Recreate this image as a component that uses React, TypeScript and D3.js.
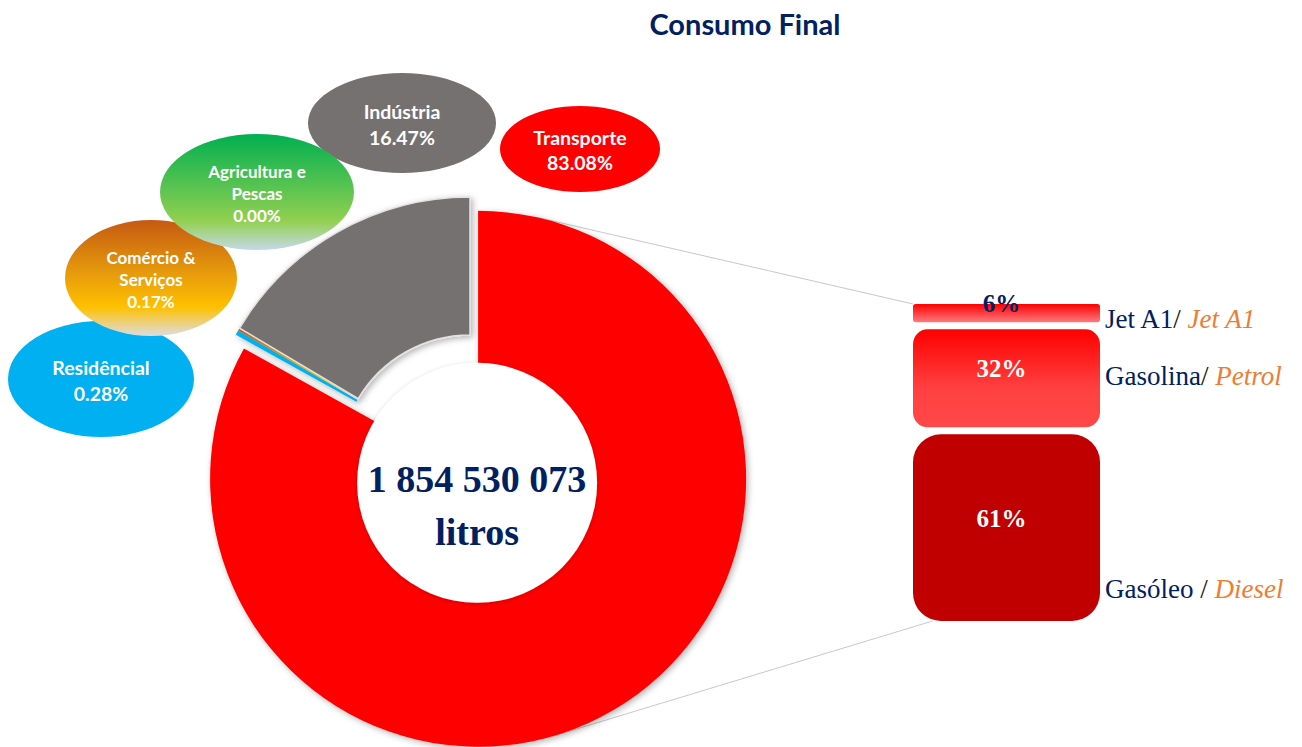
import React from 'react';
import * as d3 from 'd3';

// sectors of final consumption, clockwise from 12 o'clock
const sectors = ['Transporte', 'Residêncial', 'Comércio & Serviços', 'Agricultura e Pescas', 'Indústria'];
const sectorShares = [83.08, 0.28, 0.17, 0.0, 16.47];
const sectorLines = [['Transporte'], ['Residêncial'], ['Comércio &', 'Serviços'], ['Agricultura e', 'Pescas'], ['Indústria']];
const sectorFills = ['#FF0000', '#00B0F0', 'url(#gradComercio)', 'url(#gradAgri)', '#767171'];

// breakdown of transport
const fuels = ['Jet A1', 'Gasolina', 'Gasóleo'];
const fuelsEn = ['Jet A1', 'Petrol', 'Diesel'];
const fuelShares = [6, 32, 61];
const fuelFills = ['url(#gradJet)', 'url(#gradGas)', '#C00000'];

const totalLabel = ['1 854 530 073', 'litros'];

// callout bubbles (layout only)
const callouts = {
  'Transporte': { cx: 580, cy: 149, rx: 80, ry: 43, fs: 19.5, lh: 25 },
  'Residêncial': { cx: 101, cy: 379, rx: 93, ry: 58, fs: 19.5, lh: 26 },
  'Comércio & Serviços': { cx: 151, cy: 278, rx: 86, ry: 58, fs: 17, lh: 22 },
  'Agricultura e Pescas': { cx: 257, cy: 192, rx: 97, ry: 58, fs: 17, lh: 22 },
  'Indústria': { cx: 402, cy: 123, rx: 94, ry: 50, fs: 19.5, lh: 26 },
};
const calloutOrder = ['Indústria', 'Residêncial', 'Comércio & Serviços', 'Agricultura e Pescas', 'Transporte'];

const W = 1302;
const H = 747;
const NAVY = '#002060';
const SANS = 'Lato, "Open Sans", sans-serif';
const SERIF = '"Liberation Serif", "DejaVu Serif", serif';

export default function App() {
  const cx = 470, cy = 465;
  const outerR = 268, innerR = 130, holeR = 120, explode = 16;

  const pie = d3.pie<number>().sort(null).value(d => d);
  const arcs = pie(sectorShares);
  const arc = d3.arc<d3.PieArcDatum<number>>().outerRadius(outerR).innerRadius(innerR);
  const redArc = d3.arc<d3.PieArcDatum<number>>().outerRadius(outerR).innerRadius(0);

  const red = arcs[0];
  const mid = (red.startAngle + red.endAngle) / 2;
  const rcx = cx + explode * Math.sin(mid);
  const rcy = cy - explode * Math.cos(mid);

  // bar stack
  const barX = 913, barW = 187, barTop = 304, barBottom = 621, gap = 7;
  const y = d3.scaleLinear()
    .domain([0, d3.sum(fuelShares)])
    .range([barTop, barBottom - gap * (fuelShares.length - 1)]);
  let acc = 0;
  const bars = fuelShares.map((v, i) => {
    const y0 = y(acc) + i * gap;
    acc += v;
    const y1 = y(acc) + i * gap;
    return { name: fuels[i], en: fuelsEn[i], v, y0, y1, h: y1 - y0, fill: fuelFills[i] };
  });

  const ptOnRed = (deg: number) => {
    const a = (deg * Math.PI) / 180;
    return [rcx + outerR * Math.sin(a), rcy - outerR * Math.cos(a)];
  };
  const topStart = ptOnRed(13);
  const botStart = ptOnRed(164);
  const last = bars[bars.length - 1];
  const lastR = Math.min(28, last.h * 0.15);

  return (
    <svg width={W} height={H} style={{ position: 'absolute', left: 0, top: 0, background: '#fff' }}>
      <defs>
        <filter id="shadow" x="-20%" y="-20%" width="140%" height="140%">
          <feDropShadow dx="2" dy="2" stdDeviation="3" floodColor="#000" floodOpacity="0.3" />
        </filter>
        <filter id="soft" x="-20%" y="-20%" width="140%" height="140%">
          <feDropShadow dx="0" dy="1" stdDeviation="2" floodColor="#000" floodOpacity="0.2" />
        </filter>
        <linearGradient id="gradComercio" x1="0" y1="0" x2="0" y2="1">
          <stop offset="0" stopColor="#C55A11" />
          <stop offset="0.45" stopColor="#E69A0C" />
          <stop offset="0.75" stopColor="#FFC000" />
          <stop offset="1" stopColor="#DCDDE2" />
        </linearGradient>
        <linearGradient id="gradAgri" x1="0" y1="0" x2="0" y2="1">
          <stop offset="0" stopColor="#00B050" />
          <stop offset="0.75" stopColor="#92D050" />
          <stop offset="1" stopColor="#C5D9E8" />
        </linearGradient>
        <linearGradient id="gradJet" x1="0" y1="0" x2="0" y2="1">
          <stop offset="0" stopColor="#FF0000" />
          <stop offset="1" stopColor="#FF7C80" />
        </linearGradient>
        <linearGradient id="gradGas" x1="0" y1="0" x2="0" y2="1">
          <stop offset="0" stopColor="#FF0000" />
          <stop offset="0.6" stopColor="#FF4040" />
          <stop offset="1" stopColor="#FF4848" />
        </linearGradient>
      </defs>

      <text x={745} y={35} textAnchor="middle" fontFamily={SANS} fontWeight="bold" fontSize={29} fill={NAVY}>
        Consumo Final
      </text>

      {/* connector lines */}
      <line x1={topStart[0]} y1={topStart[1]} x2={barX} y2={bars[0].y0} stroke="#C8C8C8" strokeWidth={1} />
      <line x1={botStart[0]} y1={botStart[1]} x2={barX + lastR * 0.7} y2={last.y1} stroke="#C8C8C8" strokeWidth={1} />

      {/* doughnut */}
      <g filter="url(#shadow)">
        {arcs.slice(1).map((a, i) => (
          <path key={sectors[i + 1]} d={arc(a) || ''} transform={`translate(${cx},${cy})`}
            fill={sectorFills[i + 1]} stroke={i === 3 ? '#E2E2E2' : 'none'} strokeWidth={i === 3 ? 1.5 : 0} />
        ))}
        <path d={redArc(red) || ''} transform={`translate(${rcx},${rcy})`} fill={sectorFills[0]} />
      </g>
      <circle cx={rcx - 1} cy={rcy + 4} r={holeR} fill="#fff" filter="url(#soft)" />
      <g fontFamily={SERIF} fontWeight="bold" fontSize={38} fill={NAVY} textAnchor="middle">
        <text x={rcx - 1} y={rcy + 13}>{totalLabel[0]}</text>
        <text x={rcx - 1} y={rcy + 66}>{totalLabel[1]}</text>
      </g>

      {/* callouts */}
      {calloutOrder.map(name => {
        const i = sectors.indexOf(name);
        const c = callouts[name];
        const lines = [...sectorLines[i], `${sectorShares[i].toFixed(2)}%`];
        const n = lines.length;
        return (
          <g key={name}>
            <ellipse cx={c.cx} cy={c.cy} rx={c.rx} ry={c.ry} fill={sectorFills[i]} />
            {lines.map((t, k) => (
              <text key={k} x={c.cx} y={c.cy + 1 + (k - (n - 1) / 2) * c.lh} textAnchor="middle"
                dominantBaseline="central" fontFamily={SANS} fontWeight="bold" fontSize={c.fs} fill="#fff">
                {t}
              </text>
            ))}
          </g>
        );
      })}

      {/* transport breakdown */}
      {bars.map((b, i) => {
        const r = Math.min(28, b.h * 0.15);
        const labelY = i === 0 ? b.y1 + 6 : i === 1 ? b.y0 + 56 : b.y1 - 23;
        const pctY = i === 0 ? b.y1 - 10 : i === 1 ? b.y0 + 48 : b.y1 - 94;
        return (
          <g key={b.name}>
            <rect x={barX} y={b.y0} width={barW} height={b.h} rx={r} ry={r} fill={b.fill} />
            <text x={barX + barW / 2 - 5} y={pctY} textAnchor="middle" fontFamily={SERIF} fontWeight="bold"
              fontSize={25} fill={i === 0 ? NAVY : '#fff'}>
              {`${b.v}%`}
            </text>
            <text x={1105} y={labelY} fontFamily={SERIF} fontSize={27} fill={NAVY}>
              {b.name}
              <tspan fill="#111">{i === 2 ? ' / ' : '/ '}</tspan>
              <tspan fill="#ED7D31" fontStyle="italic">{b.en}</tspan>
            </text>
          </g>
        );
      })}
    </svg>
  );
}
